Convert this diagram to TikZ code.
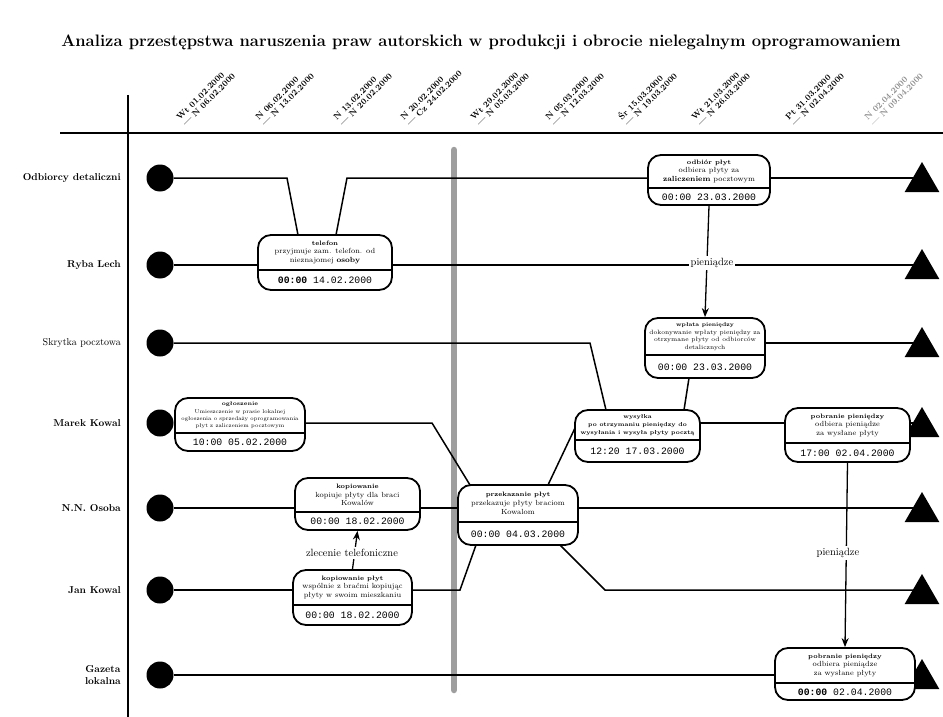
\documentclass[tikz,border=0pt]{standalone}
\usepackage{fontspec}
\newfontfamily\monof{Liberation Mono}
\usetikzlibrary{fit,calc,arrows.meta,shapes.geometric}
\newcommand\descsize{\fontsize{7.4}{8.8}\selectfont}
\newcommand\titlesize{\fontsize{6.4}{8.8}\selectfont\bfseries}
\tikzset{
  lane/.style={line width=1.5pt},
  arr/.style={line width=1.3pt,-{Stealth[length=9pt,width=7pt]}},
  evbox/.style={draw,line width=1.8pt,rounded corners=13pt,fill=white,inner sep=0pt},
  boxtxt/.style={align=center,inner sep=0pt,font=\descsize},
  timetxt/.style={inner sep=0pt,font=\monof\fontsize{9.8}{11}\selectfont},
  startdot/.style={circle,fill=black,minimum size=27pt,inner sep=0pt},
  enddot/.style={regular polygon,regular polygon sides=3,fill=black,minimum size=40pt,inner sep=0pt},
  rowlbl/.style={anchor=east,inner sep=1pt,font=\fontsize{10}{12}\selectfont\bfseries,align=center},
  hdr/.style={rotate=45,anchor=south west,align=left,inner sep=0pt,font=\fontsize{8.5}{8.5}\selectfont\bfseries},
  lbl/.style={fill=white,inner sep=2pt,font=\fontsize{10.5}{12}\selectfont}
}
\newcommand\evbox[9]{%
  \node[evbox,fit={(#2,#3) (#4,#5)}] (#1) {};
  \draw[line width=1.4pt] (#2,#6) -- (#4,#6);
  \node[boxtxt] (#1u) at ({(#2+#4)/2},{(#3+#6)/2}) {{\titlesize #7}\\#8};
  \node[timetxt] (#1t) at ({(#2+#4)/2},{(#6+#5)/2+0.5}) {#9};
}
\begin{document}
\begin{tikzpicture}[x=1pt,y=-1pt]
\useasboundingbox (0,0) rectangle (943,717);
\fill[white] (0,0) rectangle (943,717);

% title
\node[font=\fontsize{16.6}{19}\selectfont\bfseries] (title) at (481,42)
  {Analiza przestępstwa naruszenia praw autorskich w produkcji i obrocie nielegalnym oprogramowaniem};

% axes
\draw[line width=1.6pt] (60,133) -- (943,133);
\draw[line width=1.6pt] (128,95) -- (128,717);
\draw[line width=6.5pt,black!38,line cap=round] (454,150) -- (454,690);

% header dates
\node[hdr] (h1) at (186,127) {Wt 01.02.2000\\— N 06.02.2000};
\node[hdr] (h2) at (265,127) {N 06.02.2000\\— N 13.02.2000};
\node[hdr] (h3) at (343,127) {N 13.02.2000\\— N 20.02.2000};
\node[hdr] (h4) at (410,127) {N 20.02.2000\\— Cz 24.02.2000};
\node[hdr] (h5) at (480,127) {Wt 29.02.2000\\— N 05.03.2000};
\node[hdr] (h6) at (555,127) {N 05.03.2000\\— N 12.03.2000};
\node[hdr] (h7) at (628,127) {Śr 15.03.2000\\— N 19.03.2000};
\node[hdr] (h8) at (701,127) {Wt 21.03.2000\\— N 26.03.2000};
\node[hdr] (h9) at (795,127) {Pt 31.03.2000\\— N 02.04.2000};
\node[hdr,text=black!45] (h10) at (874,127) {N 02.04.2000\\— N 09.04.2000};

% row labels
\node[rowlbl] (l1) at (122,178) {Odbiorcy detaliczni};
\node[rowlbl] (l2) at (122,265) {Ryba Lech};
\node[rowlbl,font=\fontsize{10}{12}\selectfont] (l3) at (122,343) {Skrytka pocztowa};
\node[rowlbl] (l4) at (122,423) {Marek Kowal};
\node[rowlbl] (l5) at (122,508) {N.N. Osoba};
\node[rowlbl] (l6) at (122,590) {Jan Kowal};
\node[rowlbl] (l7) at (122,675) {Gazeta\\lokalna};

% start dots and end triangles
\foreach \i/\y in {1/178,2/265,3/343,4/423,5/508,6/590,7/675}{
  \node[startdot] (c\i) at (160,\y) {};
  \node[enddot] (t\i) at (922,\y+4) {};
}

% event boxes
\evbox{b1}{258}{235}{392}{290}{270}{telefon}{przyjmuje zam. telefon. od\\nieznajomej \textbf{osoby}}{\textbf{00:00} 14.02.2000}
\evbox{b2}{648}{155}{770}{205}{188}{odbiór płyt}{odbiera płyty za\\\textbf{zaliczeniem} pocztowym}{00:00 23.03.2000}
\evbox{b6}{785}{408}{910}{462}{443}{pobranie pieniędzy}{odbiera pieniądze\\za wysłane płyty}{17:00 02.04.2000}
\evbox{b7}{295}{478}{420}{530}{512}{kopiowanie}{kopiuje płyty dla braci\\Kowalów}{00:00 18.02.2000}
\evbox{b8}{458}{485}{578}{545}{522}{przekazanie płyt}{przekazuje płyty braciom\\Kowalom}{00:00 04.03.2000}
\evbox{b9}{293}{570}{412}{625}{605}{kopiowanie płyt}{wspólnie z braćmi kopiując\\płyty w swoim mieszkaniu}{00:00 18.02.2000}
\evbox{b10}{775}{648}{915}{700}{683}{pobranie pieniędzy}{odbiera pieniądze\\za wysłane płyty}{\textbf{00:00} 02.04.2000}
\renewcommand\descsize{\fontsize{5.8}{8}\selectfont}
\renewcommand\titlesize{\fontsize{5.8}{8}\selectfont\bfseries}
\evbox{b5}{575}{410}{700}{462}{440}{wysyłka}{\textbf{po otrzymaniu pieniędzy do}\\\textbf{wysyłania i wysyła płyty pocztą}}{12:20 17.03.2000}
\renewcommand\descsize{\fontsize{6.2}{7.6}\selectfont}
\renewcommand\titlesize{\fontsize{5.6}{7.6}\selectfont\bfseries}
\evbox{b3}{645}{318}{765}{378}{355}{wpłata pieniędzy}{dokonywanie wpłaty pieniędzy za\\otrzymane płyty od odbiorców\\detalicznych}{00:00 23.03.2000}
\renewcommand\descsize{\fontsize{5.5}{7.4}\selectfont}
\renewcommand\titlesize{\fontsize{5.4}{7.4}\selectfont\bfseries}
\evbox{b4}{175}{398}{305}{451}{433}{ogłoszenie}{Umieszczenie w prasie lokalnej\\ogłoszenia o sprzedaży oprogramowania\\płyt z zaliczeniem pocztowym}{10:00 05.02.2000}

% row 1
\coordinate (r1a) at (287,178);
\coordinate (r1b) at (298,235);
\coordinate (r1c) at (336,235);
\coordinate (r1d) at (347,178);
\draw[lane] (c1) -- (r1a) -- (r1b);
\draw[lane] (r1c) -- (r1d) -- (r1d -| b2.west);
\draw[lane] (c1 -| b2.east) -- (c1 -| t1);

% row 2
\draw[lane] (c2) -- (c2 -| b1.west);
\draw[lane] (c2 -| b1.east) -- (c2 -| t2);

% row 3
\coordinate (r3a) at (590,343);
\coordinate (r3b) at (606,410);
\coordinate (r3c) at (689,378);
\coordinate (r3d) at (684,410);
\draw[lane] (c3) -- (r3a) -- (r3b);
\draw[lane] (r3c) -- (r3d);
\draw[lane] (c3 -| b3.east) -- (c3 -| t3);

% row 4
\coordinate (r4a) at (432,423);
\coordinate (r4b) at (470,485);
\coordinate (r4c) at (548,485);
\coordinate (r4d) at (575,428);
\draw[lane] (c4) -- (c4 -| b4.west);
\draw[lane] (c4 -| b4.east) -- (r4a) -- (r4b);
\draw[lane] (r4c) -- (r4d);
\draw[lane] (c4 -| b5.east) -- (c4 -| b6.west);
\draw[lane] (c4 -| b6.east) -- (c4 -| t4);

% row 5
\draw[lane] (c5) -- (c5 -| b7.west);
\draw[lane] (c5 -| b7.east) -- (c5 -| b8.west);
\draw[lane] (c5 -| b8.east) -- (c5 -| t5);

% row 6
\coordinate (r6a) at (460,590);
\coordinate (r6b) at (476,545);
\coordinate (r6c) at (560,545);
\coordinate (r6d) at (605,590);
\draw[lane] (c6) -- (c6 -| b9.west);
\draw[lane] (c6 -| b9.east) -- (r6a) -- (r6b);
\draw[lane] (r6c) -- (r6d) -- (c6 -| t6);

% row 7
\draw[lane] (c7) -- (c7 -| b10.west);
\draw[lane] (c7 -| b10.east) -- (c7 -| t7);

% flows between rows
\draw[arr] (b2.south) -- (b3.north);
\node[lbl] (m1) at (712,263) {pieniądze};
\draw[arr] (b6.south) -- (b10.north);
\node[lbl] (m2) at (838,553) {pieniądze};
\draw[arr] (b9.north) -- (b7.south);
\node[lbl] (m3) at (352,553) {zlecenie telefoniczne};
\end{tikzpicture}
\end{document}
